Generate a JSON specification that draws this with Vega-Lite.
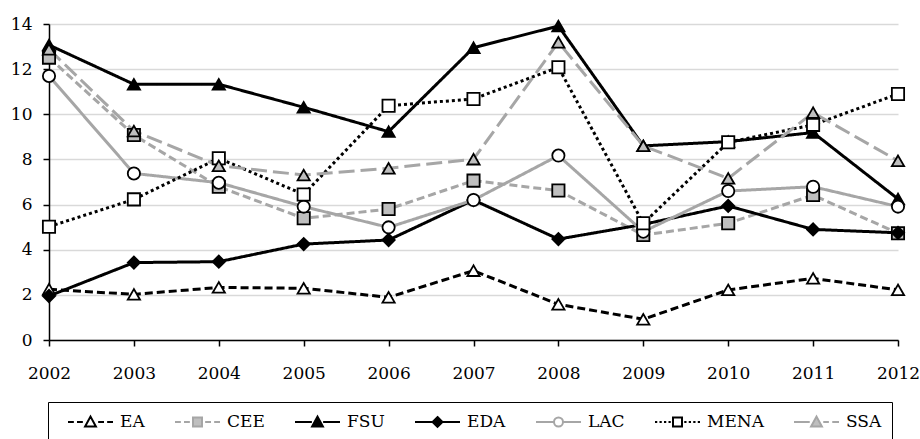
{
  "$schema": "https://vega.github.io/schema/vega-lite/v6.json",
  "autosize": {"type": "none"},
  "padding": {"left": 49, "top": 24, "right": 22, "bottom": 99},
  "width": 849,
  "height": 316,
  "background": "white",
  "data": {"values": [
    {"year": "2002", "series": "EA", "value": 2.25}, {"year": "2003", "series": "EA", "value": 2.02}, {"year": "2004", "series": "EA", "value": 2.33}, {"year": "2005", "series": "EA", "value": 2.29}, {"year": "2006", "series": "EA", "value": 1.89}, {"year": "2007", "series": "EA", "value": 3.07}, {"year": "2008", "series": "EA", "value": 1.58}, {"year": "2009", "series": "EA", "value": 0.92}, {"year": "2010", "series": "EA", "value": 2.22}, {"year": "2011", "series": "EA", "value": 2.73}, {"year": "2012", "series": "EA", "value": 2.22},
    {"year": "2002", "series": "CEE", "value": 12.51}, {"year": "2003", "series": "CEE", "value": 9.08}, {"year": "2004", "series": "CEE", "value": 6.79}, {"year": "2005", "series": "CEE", "value": 5.39}, {"year": "2006", "series": "CEE", "value": 5.8}, {"year": "2007", "series": "CEE", "value": 7.06}, {"year": "2008", "series": "CEE", "value": 6.62}, {"year": "2009", "series": "CEE", "value": 4.65}, {"year": "2010", "series": "CEE", "value": 5.17}, {"year": "2011", "series": "CEE", "value": 6.42}, {"year": "2012", "series": "CEE", "value": 4.73},
    {"year": "2002", "series": "FSU", "value": 13.07}, {"year": "2003", "series": "FSU", "value": 11.33}, {"year": "2004", "series": "FSU", "value": 11.33}, {"year": "2005", "series": "FSU", "value": 10.31}, {"year": "2006", "series": "FSU", "value": 9.23}, {"year": "2007", "series": "FSU", "value": 12.95}, {"year": "2008", "series": "FSU", "value": 13.91}, {"year": "2009", "series": "FSU", "value": 8.6}, {"year": "2010", "series": "FSU", "value": 8.79}, {"year": "2011", "series": "FSU", "value": 9.19}, {"year": "2012", "series": "FSU", "value": 6.25},
    {"year": "2002", "series": "EDA", "value": 1.95}, {"year": "2003", "series": "EDA", "value": 3.43}, {"year": "2004", "series": "EDA", "value": 3.47}, {"year": "2005", "series": "EDA", "value": 4.25}, {"year": "2006", "series": "EDA", "value": 4.43}, {"year": "2007", "series": "EDA", "value": 6.2}, {"year": "2008", "series": "EDA", "value": 4.47}, {"year": "2009", "series": "EDA", "value": 5.12}, {"year": "2010", "series": "EDA", "value": 5.94}, {"year": "2011", "series": "EDA", "value": 4.9}, {"year": "2012", "series": "EDA", "value": 4.75},
    {"year": "2002", "series": "LAC", "value": 11.7}, {"year": "2003", "series": "LAC", "value": 7.38}, {"year": "2004", "series": "LAC", "value": 6.97}, {"year": "2005", "series": "LAC", "value": 5.91}, {"year": "2006", "series": "LAC", "value": 4.99}, {"year": "2007", "series": "LAC", "value": 6.2}, {"year": "2008", "series": "LAC", "value": 8.17}, {"year": "2009", "series": "LAC", "value": 4.8}, {"year": "2010", "series": "LAC", "value": 6.6}, {"year": "2011", "series": "LAC", "value": 6.79}, {"year": "2012", "series": "LAC", "value": 5.91},
    {"year": "2002", "series": "MENA", "value": 5.02}, {"year": "2003", "series": "MENA", "value": 6.23}, {"year": "2004", "series": "MENA", "value": 8.05}, {"year": "2005", "series": "MENA", "value": 6.45}, {"year": "2006", "series": "MENA", "value": 10.38}, {"year": "2007", "series": "MENA", "value": 10.68}, {"year": "2008", "series": "MENA", "value": 12.08}, {"year": "2009", "series": "MENA", "value": 5.17}, {"year": "2010", "series": "MENA", "value": 8.76}, {"year": "2011", "series": "MENA", "value": 9.53}, {"year": "2012", "series": "MENA", "value": 10.9},
    {"year": "2002", "series": "SSA", "value": 12.88}, {"year": "2003", "series": "SSA", "value": 9.26}, {"year": "2004", "series": "SSA", "value": 7.72}, {"year": "2005", "series": "SSA", "value": 7.31}, {"year": "2006", "series": "SSA", "value": 7.61}, {"year": "2007", "series": "SSA", "value": 8.01}, {"year": "2008", "series": "SSA", "value": 13.19}, {"year": "2009", "series": "SSA", "value": 8.6}, {"year": "2010", "series": "SSA", "value": 7.16}, {"year": "2011", "series": "SSA", "value": 10.07}, {"year": "2012", "series": "SSA", "value": 7.94}
  ]},
  "encoding": {
    "x": {"field": "year", "type": "ordinal", "scale": {"type": "point", "padding": 0}, "axis": {"labelAngle": 0, "labelPadding": 19, "grid": false}},
    "y": {"field": "value", "type": "quantitative", "scale": {"domain": [0, 14], "nice": false}, "axis": {"values": [0, 2, 4, 6, 8, 10, 12, 14], "grid": true, "gridColor": "#d9d9d9", "gridWidth": 1.5, "labelPadding": 11}}
  },
  "layer": [
    {
      "mark": {"type": "line", "strokeCap": "butt"},
      "encoding": {
        "stroke": {"field": "series", "type": "nominal", "scale": {"domain": ["EA", "CEE", "FSU", "EDA", "LAC", "MENA", "SSA"], "range": ["#000000", "#a6a6a6", "#000000", "#000000", "#a6a6a6", "#000000", "#a6a6a6"]}, "legend": null},
        "strokeDash": {"field": "series", "type": "nominal", "scale": {"domain": ["EA", "CEE", "FSU", "EDA", "LAC", "MENA", "SSA"], "range": [[8, 4], [8, 4], [1, 0], [1, 0], [1, 0], [3, 3], [16, 6]]}, "legend": null},
        "strokeWidth": {"field": "series", "type": "nominal", "scale": {"domain": ["EA", "CEE", "FSU", "EDA", "LAC", "MENA", "SSA"], "range": [3, 3, 3, 1.5, 2.5, 3, 3]}, "legend": null}
      }
    },
    {
      "mark": {"type": "point", "filled": true, "stroke": "#000000", "strokeWidth": 1.8, "opacity": 1, "size": 150},
      "encoding": {
        "shape": {"field": "series", "type": "nominal", "scale": {"domain": ["EA", "CEE", "FSU", "EDA", "LAC", "MENA", "SSA"], "range": ["triangle-up", "square", "triangle-up", "diamond", "circle", "square", "triangle-up"]}, "legend": null},
        "fill": {"field": "series", "type": "nominal", "scale": {"domain": ["EA", "CEE", "FSU", "EDA", "LAC", "MENA", "SSA"], "range": ["#ffffff", "#bfbfbf", "#000000", "#000000", "#ffffff", "#ffffff", "#bfbfbf"]}, "legend": null}
      }
    },
    {
      "transform": [{"filter": "datum.value < -100"}],
      "mark": {"type": "point", "filled": true, "opacity": 1},
      "encoding": {
        "shape": {"field": "series", "type": "nominal", "scale": {"domain": ["EA", "CEE", "FSU", "EDA", "LAC", "MENA", "SSA"], "range": [
          "M-1,0H-0.74M-0.6,0H-0.34M0.34,0H0.6M0.74,0H1M-0.24,0.2L0,-0.24L0.24,0.2Z",
          "M-1,0H-0.74M-0.6,0H-0.34M0.34,0H0.6M0.74,0H1M-0.2,-0.2H0.2V0.2H-0.2Z",
          "M-1,0H-0.25M0.25,0H1M-0.24,0.2L0,-0.24L0.24,0.2Z",
          "M-1,0H-0.2M0.2,0H1M0,-0.22L0.22,0L0,0.22L-0.22,0Z",
          "M-1,0H-0.22M0.22,0H1M-0.2,0A0.2,0.2 0 1,0 0.2,0A0.2,0.2 0 1,0 -0.2,0Z",
          "M-1,0H-0.9M-0.8,0H-0.7M-0.6,0H-0.5M-0.4,0H-0.3M0.3,0H0.4M0.5,0H0.6M0.7,0H0.8M0.9,0H1M-0.2,-0.2H0.2V0.2H-0.2Z",
          "M-1,0H-0.3M0.3,0H0.55M0.7,0H1M-0.24,0.2L0,-0.24L0.24,0.2Z"
        ]}, "legend": {"title": null}},
        "fill": {"field": "series", "type": "nominal", "scale": {"domain": ["EA", "CEE", "FSU", "EDA", "LAC", "MENA", "SSA"], "range": ["#ffffff", "#bfbfbf", "#000000", "#000000", "#ffffff", "#ffffff", "#bfbfbf"]}, "legend": {"title": null}},
        "stroke": {"field": "series", "type": "nominal", "scale": {"domain": ["EA", "CEE", "FSU", "EDA", "LAC", "MENA", "SSA"], "range": ["#000000", "#a6a6a6", "#000000", "#000000", "#a6a6a6", "#000000", "#a6a6a6"]}, "legend": {"title": null}}
      }
    }
  ],
  "resolve": {"scale": {"shape": "independent", "fill": "independent", "stroke": "independent"}},
  "config": {
    "font": "DejaVu Serif",
    "view": {"stroke": null},
    "axis": {"labelFont": "DejaVu Serif", "labelFontSize": 17, "labelColor": "black", "domainColor": "black", "domainWidth": 1.5, "tickColor": "black", "tickWidth": 1.5, "tickSize": 6, "title": null},
    "legend": {"orient": "none", "legendX": -1, "legendY": 378, "direction": "horizontal", "columns": 7, "strokeColor": "black", "padding": 10, "symbolSize": 2025, "clipHeight": 20, "labelFont": "DejaVu Serif", "labelFontSize": 17, "labelColor": "black", "columnPadding": 20, "labelOffset": 6, "symbolStrokeWidth": 2, "symbolOffset": 9}
  }
}
